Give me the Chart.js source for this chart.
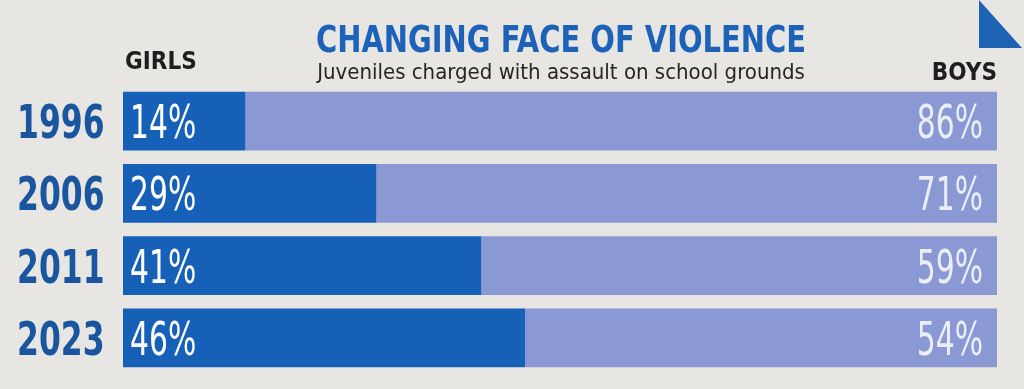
<!DOCTYPE html>
<html>
<head>
<meta charset="utf-8">
<script src="https://cdn.jsdelivr.net/npm/chart.js@4/dist/chart.umd.min.js"></script>
<style>
  html, body { margin: 0; padding: 0; background: #e8e6e2; }
</style>
</head>
<body>
<canvas id="chart" width="1024" height="389"></canvas>
<script>
// data
const years = ["1996", "2006", "2011", "2023"];
const girls = [14, 29, 41, 46];
const boys = [86, 71, 59, 54];

const girlsColor = "rgb(22, 96, 184)";
const boysColor = "rgb(138, 152, 212)";
const cond = "'DejaVu Sans Condensed', 'DejaVu Sans', sans-serif";

// draw text squeezed horizontally, since no narrow font is installed
function narrowText(ctx, text, x, y, squeeze, align) {
  ctx.save();
  ctx.translate(x, y);
  ctx.scale(squeeze, 1);
  ctx.textAlign = align;
  ctx.fillText(text, 0, 0);
  ctx.restore();
}

// titles, year labels, percent labels and the corner mark
const labelPlugin = {
  id: "labels",
  afterDatasetsDraw(chart) {
    const ctx = chart.ctx;
    const area = chart.chartArea;
    const yScale = chart.scales.y;
    ctx.save();
    ctx.textBaseline = "alphabetic";

    // title + subtitle
    ctx.fillStyle = "rgb(28, 98, 184)";
    ctx.font = "bold 37px " + cond;
    narrowText(ctx, "CHANGING FACE OF VIOLENCE", 561, 52, 0.87, "center");
    ctx.fillStyle = "#262626";
    ctx.font = "22px " + cond;
    narrowText(ctx, "Juveniles charged with assault on school grounds", 561, 79, 1.0, "center");

    // column headers
    ctx.fillStyle = "#1e1e1e";
    ctx.font = "bold 24px " + cond;
    narrowText(ctx, "GIRLS", area.left + 2, 69, 1.0, "left");
    narrowText(ctx, "BOYS", area.right, 80, 1.0, "right");

    // year labels on the left
    ctx.fillStyle = "rgb(26, 86, 160)";
    ctx.font = "bold 46px " + cond;
    for (let i = 0; i < years.length; i++) {
      const y = yScale.getPixelForTick(i);
      narrowText(ctx, years[i], 17, y + 17, 0.76, "left");
    }

    // percent labels inside the bars
    const gMeta = chart.getDatasetMeta(0);
    const bMeta = chart.getDatasetMeta(1);
    ctx.font = "46px " + cond;
    for (let i = 0; i < years.length; i++) {
      const g = gMeta.data[i];
      const b = bMeta.data[i];
      ctx.fillStyle = "#ffffff";
      narrowText(ctx, girls[i] + "%", g.base + 7, g.y + 17, 0.72, "left");
      ctx.fillStyle = "#eceef6";
      narrowText(ctx, boys[i] + "%", b.x - 14, b.y + 17, 0.72, "right");
    }

    // corner triangle
    ctx.fillStyle = "rgb(30, 98, 180)";
    ctx.beginPath();
    ctx.moveTo(979, 0);
    ctx.lineTo(979, 48);
    ctx.lineTo(1022, 48);
    ctx.closePath();
    ctx.fill();
    ctx.restore();
  }
};

const ctx = document.getElementById("chart");
new Chart(ctx, {
  type: "bar",
  data: {
    labels: years,
    datasets: [
      {
        label: "Girls",
        data: girls,
        backgroundColor: girlsColor,
        barPercentage: 0.81,
        categoryPercentage: 1,
      },
      {
        label: "Boys",
        data: boys,
        backgroundColor: boysColor,
        barPercentage: 0.81,
        categoryPercentage: 1,
      },
    ],
  },
  options: {
    indexAxis: "y",
    responsive: false,
    animation: false,
    layout: { padding: { top: 85, right: 27, bottom: 15, left: 0 } },
    scales: {
      x: { stacked: true, min: 0, max: 100, display: false },
      y: {
        stacked: true,
        grid: { display: false },
        border: { display: false },
        ticks: { display: false },
        afterFit(scale) {
          scale.width = 123;
        },
      },
    },
    plugins: {
      legend: { display: false },
      tooltip: { enabled: false },
    },
  },
  plugins: [labelPlugin],
});
</script>
</body>
</html>
